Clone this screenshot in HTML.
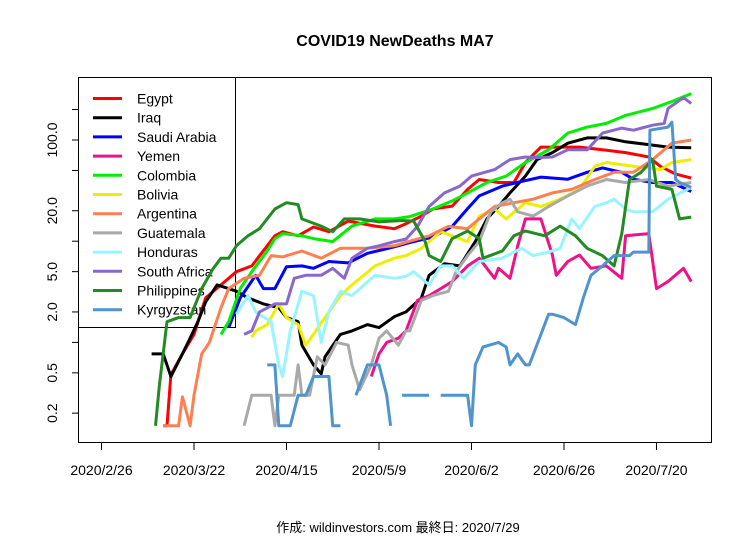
<!DOCTYPE html>
<html><head><meta charset="utf-8"><style>
body{margin:0;background:#fff;}
svg{display:block;font-family:"Liberation Sans","Noto Sans CJK JP",sans-serif;}
</style></head><body>
<svg id="chart" width="756" height="540" viewBox="0 0 756 540">
<rect x="0" y="0" width="756" height="540" fill="#fff"/>
<text x="395" y="46" text-anchor="middle" font-size="16" font-weight="bold">COVID19 NewDeaths MA7</text>
<g id="yaxis"></g>
<g id="xaxis"></g>
<g id="legend"></g>
<g id="series"></g>
<rect x="78.5" y="77.5" width="633" height="365" fill="none" stroke="#000" stroke-width="1"/>
<text x="398" y="532" text-anchor="middle" font-size="13">作成: wildinvestors.com 最終日: 2020/7/29</text>
</svg>
<script>
const xTickLabels = ["2020/2/26","2020/3/22","2020/4/15","2020/5/9","2020/6/2","2020/6/26","2020/7/20"];
const xTickDays = [0,24,48,72,96,120,144];
const yTickValues = [200,100,50,20,10,5,2,1,0.5,0.2];
const yTickLabels = ["","100.0","","20.0","","5.0","2.0","","0.5","0.2"];
const seriesNames = ["Egypt","Iraq","Saudi Arabia","Yemen","Colombia","Bolivia","Argentina","Guatemala","Honduras","South Africa","Philippines","Kyrgyzstan"];
const seriesColors = ["#ff0000","#000000","#0000ff","#ee1289","#00ee00","#eeee00","#ff7f50","#a9a9a9","#98f5ff","#8968cd","#228b22","#4f94cd"];

const egyptDays = [16,17,18,21,24,27,31,35,39,43,45,47,51,55,59,64,71,76,79,83,86,91,95,98,103,107,110,114,117,124,130,136,142,145,149,153];
const egyptVals = [0.15,0.15,0.48,0.77,1.2,2.75,3.7,5.0,5.7,9.0,11.3,12.4,11.3,13.8,12.4,15.8,14.1,13.3,14.9,17.7,20.8,22.2,32.5,40.7,38,38,60,85,85,85,80,75,68,55,46,42];
const iraqDays = [13,16,18,21,23,25,27,30,33,35,38,42,46,48,51,52,55,57,58,62,65,69,72,76,79,83,85,89,93,97,100,103,106,110,113,117,121,126,131,136,142,147,153];
const iraqVals = [0.77,0.77,0.46,0.77,1.1,1.6,2.5,3.7,3.4,3.2,2.75,2.4,2.2,1.76,1.6,0.94,0.6,0.49,0.72,1.2,1.3,1.5,1.4,1.8,2.0,2.75,4.6,6.0,5.7,9.9,16.6,22,30,44,64,75,93,105,105,96,90,85,84];
const saudiDays = [33,36,40,42,45,48,52,55,59,64,69,76,80,86,91,95,98,104,109,114,121,126,130,135,138,143,148,153];
const saudiVals = [1.4,2.75,4.6,3.4,3.4,5.6,5.7,5.4,6.3,6.1,7.6,8.8,9.7,11,14,21,28,35,39,43,41,48,53,48,41,38,38,31];
const yemenDays = [70,72,74,77,79,82,85,88,91,95,98,100,102,103,106,108,110,114,117,118,121,124,127,131,135,136,142,144,147,151,153];
const yemenVals = [0.46,0.77,1.0,1.1,1.3,2.6,2.9,3.4,4.0,5.7,6.8,5.4,4.3,5.4,4.3,9,16.6,16.6,7.3,4.6,6.3,7.3,5.4,5.7,4.3,11.3,11.9,3.4,4.0,5.4,4.0];
const colombiaDays = [31,33,36,39,43,45,47,52,55,60,65,71,76,80,86,91,95,100,105,110,116,121,126,131,136,143,148,153];
const colombiaVals = [1.2,1.6,3.4,5.0,8.0,10.6,11.9,11.3,10.6,9.9,14.1,16.6,16.6,17.5,20.8,25,30,38,44,60,80,117,134,146,175,205,240,287];
const boliviaDays = [39,40,43,46,48,51,53,55,59,62,65,71,76,79,83,88,91,95,98,102,105,110,114,119,124,128,131,138,145,148,153];
const boliviaVals = [1.12,1.3,1.5,2.4,1.76,1.5,0.94,1.2,2.0,2.9,3.7,5.7,6.8,7.2,8.5,12.4,11.3,9.9,17.7,20.8,16.6,24,22,26,32.5,55,60,55,51,60,64];
const argentinaDays = [16,20,21,23,24,26,28,31,33,37,41,44,47,52,57,62,69,76,80,85,90,95,98,102,107,112,117,122,128,133,138,143,148,153];
const argentinaVals = [0.15,0.15,0.29,0.15,0.3,0.77,1.0,2.2,3.4,4.3,4.6,7.2,7.0,8.0,6.8,8.5,8.5,9,10,11.3,14,13.3,16.6,22,24,26,30,32.5,40.7,48,48,64,93,100];
const guatemalaDays = [37,39,44,45,46,50,51,52,54,56,58,61,64,65,67,70,72,74,77,79,80,83,86,90,92,95,98,101,104,106,108,112,116,121,126,131,136,142,147,153];
const guatemalaVals = [0.15,0.3,0.3,0.15,0.3,0.3,0.6,0.3,0.3,0.72,0.6,1.0,0.94,0.6,0.34,0.6,1.1,1.3,0.94,1.3,1.3,2.6,2.9,3.2,5,7.2,9.9,19.5,24,26,19.5,17.7,22,28,35,40.7,38,40.7,35,38];
const hondurasDays = [35,38,40,44,46,47,49,52,55,57,59,62,65,71,76,79,81,85,88,91,94,98,104,109,112,116,119,122,124,128,131,133,136,138,143,147,153];
const hondurasVals = [1.9,2.9,2.0,1.6,0.6,0.46,1.3,3.2,2.9,1.0,2.0,3.2,2.9,4.6,4.3,4.5,5.0,3.7,5.7,5.7,4.3,6.3,6.8,8.5,7.2,7.8,8.5,16.6,13.3,22,24,26,20.8,19.5,19.5,26,34];
const southAfricaDays = [37,39,41,45,48,50,53,57,60,63,65,69,72,76,79,82,85,89,93,96,102,106,110,113,117,121,126,130,135,138,143,146,147,151,153];
const southAfricaVals = [1.2,1.3,2.0,2.4,2.4,4.3,4.6,4.6,5.4,4.3,6.8,8.5,9,9.9,10.5,14,22,30,35,44,51,64,68,67,68,80,80,117,131,125,140,146,205,262,230];
const philippinesDays = [14,15,17,20,23,26,29,31,33,35,38,41,45,48,51,52,57,60,63,67,72,78,81,84,85,88,91,95,98,99,104,107,110,115,119,123,126,130,133,135,137,140,143,144,148,150,153];
const philippinesVals = [0.15,0.37,1.6,1.76,1.76,3.4,5.4,6.8,6.8,9,11.3,13.3,20.8,24,23,16.6,14.1,12.4,16.6,16.6,15.5,16,15.8,9.9,7.2,6.3,10.6,12.6,10.6,6.8,8,11.3,12.6,11.3,14.1,11.3,8.5,7.2,5.7,11.9,40.7,48,64,35,32.5,16.6,17.3];
const kyrgyzstanDays = [43,45,46,49,51,53,55,59,60,62,63,66,69,72,74,75,76,78,85,86,88,95,96,97,99,103,105,106,108,110,111,116,117,120,123,125,127,130,133,137,138,142,142.3,147,148,149,150,153];
const kyrgyzstanVals = [0.6,0.6,0.15,0.15,0.3,0.3,0.46,0.46,0.15,0.15,null,0.3,0.6,0.6,0.3,0.15,null,0.3,0.3,null,0.3,0.3,0.15,0.6,0.9,1.0,0.9,0.6,0.77,0.6,0.6,1.9,1.9,1.76,1.5,2.75,4.6,5.7,7.2,7.2,7.8,7.8,125,134,150,40.7,38,34];

const seriesDays = [egyptDays,iraqDays,saudiDays,yemenDays,colombiaDays,boliviaDays,argentinaDays,guatemalaDays,hondurasDays,southAfricaDays,philippinesDays,kyrgyzstanDays];
const seriesVals = [egyptVals,iraqVals,saudiVals,yemenVals,colombiaVals,boliviaVals,argentinaVals,guatemalaVals,hondurasVals,southAfricaVals,philippinesVals,kyrgyzstanVals];

const NS = "http://www.w3.org/2000/svg";
function xScale(d){ return 101.5 + d*3.854; }
function yScale(v){ return 140 - (Math.log10(v) - 2)*101.2; }
function mk(tag, attrs, parent){
  const e = document.createElementNS(NS, tag);
  for (const k in attrs) e.setAttribute(k, attrs[k]);
  parent.appendChild(e);
  return e;
}
const yaxis = document.getElementById('yaxis');
yTickValues.forEach((v,i)=>{
  const y = yScale(v);
  const t = mk('line',{x1:72,x2:78.5,y1:y,y2:y,stroke:'#000','stroke-width':1},yaxis);
  
  
  if (yTickLabels[i]) {
    const tx = mk('text',{x:0,y:0,'font-size':14,'text-anchor':'middle',transform:`translate(57,${y}) rotate(-90)`},yaxis);
    tx.textContent = yTickLabels[i];
    
    
  }
});
const xaxis = document.getElementById('xaxis');
xTickDays.forEach((d,i)=>{
  const x = xScale(d);
  const t = mk('line',{x1:x,x2:x,y1:442.5,y2:450,stroke:'#000','stroke-width':1},xaxis);
  
  
  const tx = mk('text',{x:x,y:475,'font-size':14,'text-anchor':'middle'},xaxis);
  tx.textContent = xTickLabels[i];
  
  
});
const legend = document.getElementById('legend');
const lb = mk('rect',{x:78.5,y:77.5,width:157,height:250,fill:'none',stroke:'#000','stroke-width':1},legend);


seriesNames.forEach((n,i)=>{
  const y = 98.5 + i*19.2;
  const l = mk('line',{x1:93,x2:122,y1:y,y2:y,stroke:seriesColors[i],'stroke-width':3},legend);
  
  
  const tx = mk('text',{x:137,y:y+5,'font-size':14},legend);
  tx.textContent = n;
  
  
});
const sg = document.getElementById('series');
seriesNames.forEach((n,i)=>{
  const ds = seriesDays[i], vs = seriesVals[i];
  let d = '', pen = false;
  for (let k=0;k<ds.length;k++){
    if (vs[k]===null){ pen=false; continue; }
    d += (pen?'L':'M') + xScale(ds[k]).toFixed(1) + ' ' + yScale(vs[k]).toFixed(1) + ' ';
    pen = true;
  }
  const p = mk('path',{d:d,fill:'none',stroke:seriesColors[i],'stroke-width':3,'stroke-linejoin':'round'},sg);
  
  
});
</script>
</body></html>
